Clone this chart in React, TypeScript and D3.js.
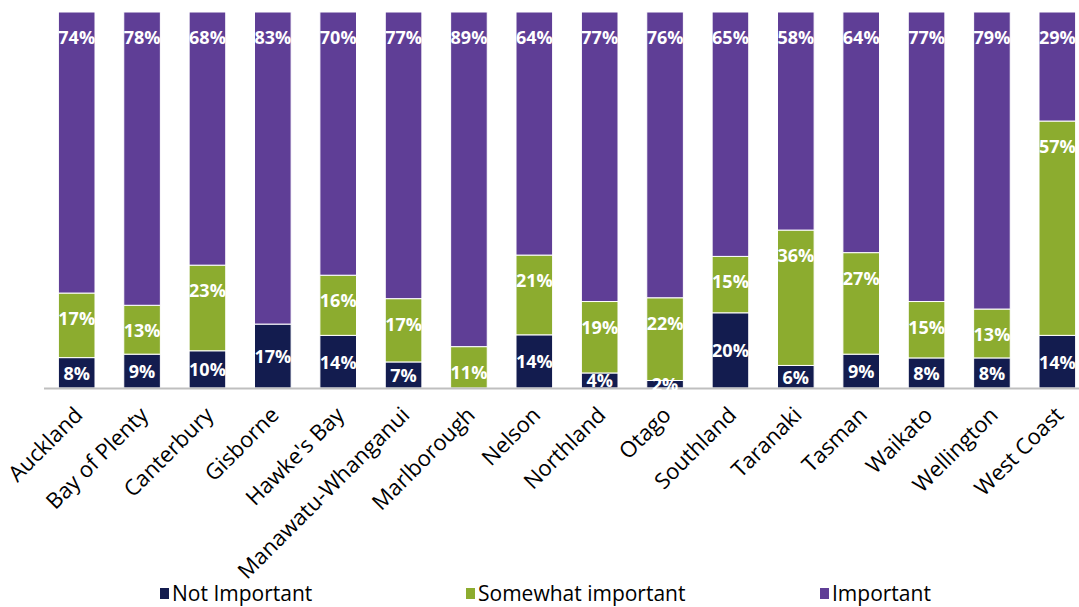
import React from "react";
import * as d3 from "d3";

const categories = [
  "Auckland", "Bay of Plenty", "Canterbury", "Gisborne", "Hawke's Bay",
  "Manawatu-Whanganui", "Marlborough", "Nelson", "Northland", "Otago",
  "Southland", "Taranaki", "Tasman", "Waikato", "Wellington", "West Coast",
];
const notImportant = [8, 9, 10, 17, 14, 7, 0, 14, 4, 2, 20, 6, 9, 8, 8, 14];
const somewhatImportant = [17, 13, 23, 0, 16, 17, 11, 21, 19, 22, 15, 36, 27, 15, 13, 57];
const important = [74, 78, 68, 83, 70, 77, 89, 64, 77, 76, 65, 58, 64, 77, 79, 29];

const seriesKeys = ["Not Important", "Somewhat important", "Important"];
const seriesColors = ["#131C4F", "#8CAC2F", "#5F3E96"];

const W = 1079;
const H = 607;
const plot = { left: 44, right: 1090, top: 12, bottom: 388 };

export default function App() {
  const rows = categories.map((c, i) => ({
    cat: c,
    "Not Important": notImportant[i],
    "Somewhat important": somewhatImportant[i],
    Important: important[i],
  }));
  const stack = d3.stack<any>().keys(seriesKeys).offset(d3.stackOffsetExpand);
  const layers = stack(rows);
  const x = d3.scaleBand().domain(categories).range([plot.left, plot.right]).paddingInner(0.44).paddingOuter(0.22);
  const y = d3.scaleLinear().domain([0, 1]).range([plot.bottom, plot.top]);
  const bw = x.bandwidth();
  const legendX = [160, 466, 820];

  return (
    <div style={{ position: "fixed", left: 0, top: 0 }}>
      <svg width={W} height={H} style={{ display: "block", background: "#fff" }}>
        {layers.map((layer, li) => (
          <g key={layer.key}>
            {layer.map((d, i) => {
              const v = (d.data as any)[layer.key] as number;
              if (v <= 0) return null;
              const y0 = y(d[1]);
              const y1 = y(d[0]);
              return (
                <rect key={i} x={x(categories[i])!} y={y0} width={bw} height={y1 - y0}
                  fill={seriesColors[li]} stroke="#fff" strokeWidth={1} />
              );
            })}
          </g>
        ))}
        <line x1={plot.left} x2={W} y1={plot.bottom + 0.5} y2={plot.bottom + 0.5} stroke="#BFBFBF" strokeWidth={2} />
        {layers.map((layer, li) => (
          <g key={"l" + layer.key}>
            {layer.map((d, i) => {
              const v = (d.data as any)[layer.key] as number;
              if (v <= 0) return null;
              const y0 = y(d[1]);
              const y1 = y(d[0]);
              const cy = li === 0 ? (y0 + y1) / 2 : y0 + 25;
              return (
                <text key={i} x={x(categories[i])! + bw / 2} y={cy} textAnchor="middle" dominantBaseline="central"
                  fill="#fff" fontFamily="'Open Sans', sans-serif" fontWeight="bold" fontSize={18}>
                  {v}%
                </text>
              );
            })}
          </g>
        ))}
        {categories.map((c) => {
          const cx = x(c)! + bw / 2;
          return (
            <text key={c} transform={`translate(${cx + 1},${plot.bottom + 22}) rotate(-45)`} textAnchor="end"
              dominantBaseline="central" fontFamily="'Open Sans', sans-serif" fontSize={22} fill="#000">
              {c}
            </text>
          );
        })}
        {seriesKeys.map((k, i) => (
          <g key={k} transform={`translate(${legendX[i]},593)`}>
            <rect x={0} y={-5} width={9} height={11} fill={seriesColors[i]} />
            <text x={12} y={0} dominantBaseline="central" fontFamily="'Open Sans', sans-serif" fontSize={21} fill="#000">
              {k}
            </text>
          </g>
        ))}
      </svg>
    </div>
  );
}
